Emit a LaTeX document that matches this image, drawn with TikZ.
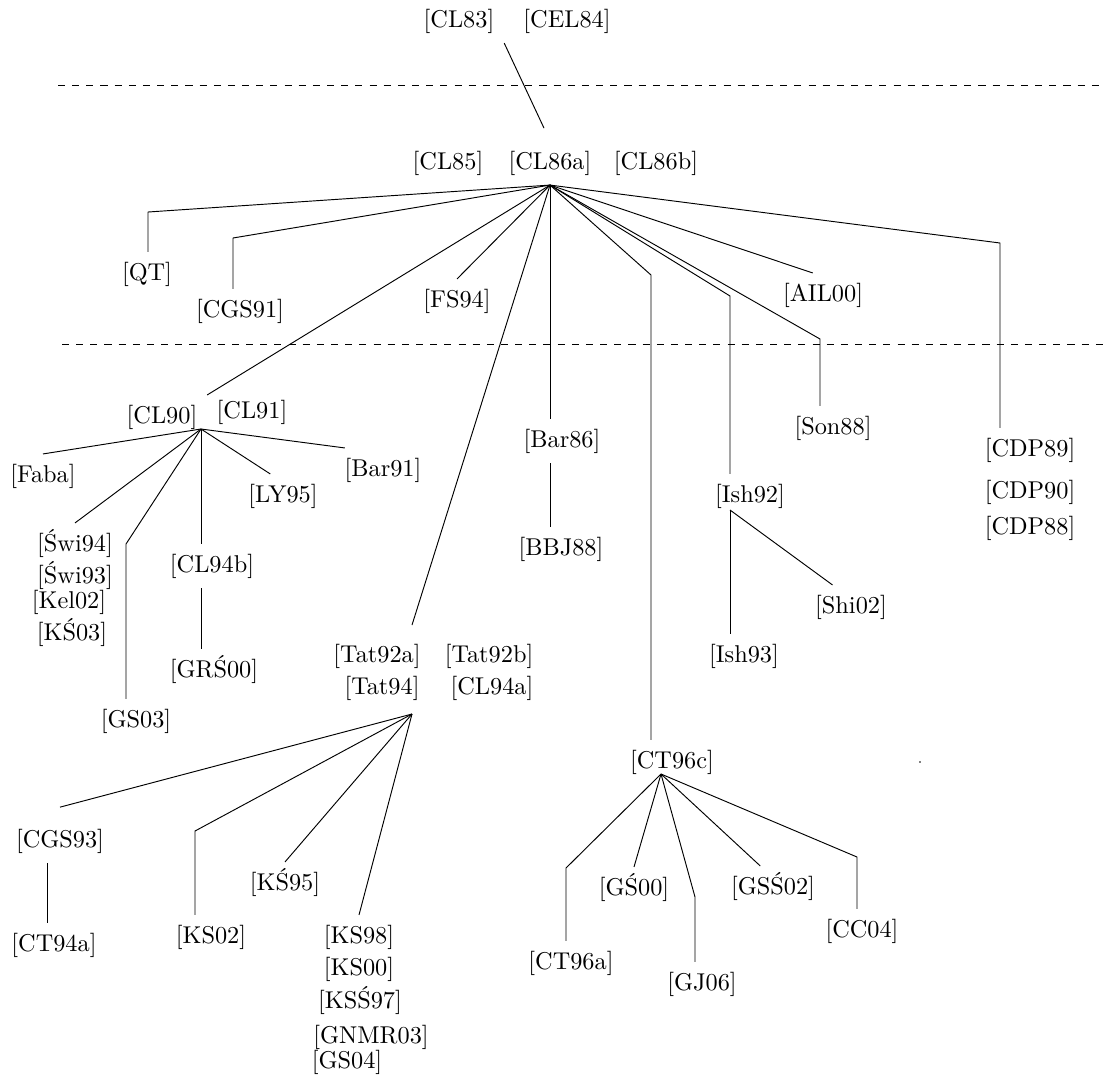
\documentclass[tikz,border=0pt]{standalone}
\usepackage{fontspec}
\usetikzlibrary{positioning}

\begin{document}
\begin{tikzpicture}[
    x=0.4237pt,y=-0.4237pt,
    line join=round,
    paper/.style={font=\fontsize{10.3}{12}\selectfont,inner sep=4pt,
        text height=7.7pt,text depth=2.6pt},
    yearline/.style={dashed}
  ]
    \useasboundingbox (0,0) rectangle (1104,1077);

    % first row
    \node [paper] (cl83)   at (459,21)   {[CL83]};
    \node [paper] (cel84)  at (567,21)   {[CEL84]};

    \draw [yearline] (58,85) -- (1100,85);

    \node [paper] (cl85)   at (448,163)  {[CL85]};
    \node [paper] (cl86a)  at (550,163)  {[CL86a]};
    \node [paper] (cl86b)  at (656,163)  {[CL86b]};

    \node [paper] (qt)     at (147,274)  {[QT]};
    \node [paper] (cgs91)  at (240,311)  {[CGS91]};
    \node [paper] (fs94)   at (457,301)  {[FS94]};
    \node [paper] (ail00)  at (823,295)  {[AIL00]};

    \draw [yearline] (62,344) -- (1104,344);

    % CL90 branch
    \node [paper] (cl90)   at (162,417)  {[CL90]};
    \node [paper] (cl91)   at (252,412)  {[CL91]};
    \node [paper] (faba)   at (43,476)   {[Faba]};
    \node [paper] (bar91)  at (383,470)  {[Bar91]};
    \node [paper] (ly95)   at (283,496)  {[LY95]};
    \node [paper] (swi94)  at (75,545)   {[Świ94]};
    \node [paper] (swi93)  at (75,577)   {[Świ93]};
    \node [paper] (kel02)  at (69,602)   {[Kel02]};
    \node [paper] (ks03)   at (72,634)   {[KŚ03]};
    \node [paper] (cl94b)  at (212,566)  {[CL94b]};
    \node [paper] (grs00)  at (214,671)  {[GRŚ00]};
    \node [paper] (gs03)   at (136,721)  {[GS03]};

    % Tat branch
    \node [paper] (tat92a) at (377,656)  {[Tat92a]};
    \node [paper] (tat92b) at (489,656)  {[Tat92b]};
    \node [paper] (tat94)  at (382,688)  {[Tat94]};
    \node [paper] (cl94a)  at (492,688)  {[CL94a]};
    \coordinate (tatin)  at (412,625);
    \coordinate (tatfan) at (412,714);
    \node [paper] (cgs93)  at (60,841)   {[CGS93]};
    \node [paper] (ct94a)  at (54,945)   {[CT94a]};
    \node [paper] (ks02)   at (211,937)  {[KS02]};
    \node [paper] (ks95)   at (285,884)  {[KŚ95]};
    \node [paper] (ks98)   at (359,937)  {[KS98]};
    \node [paper] (ks00)   at (359,969)  {[KS00]};
    \node [paper] (kss97)  at (360,1002) {[KSŚ97]};
    \node [paper] (gnmr03) at (371,1037) {[GNMR03]};
    \node [paper] (gs04)   at (347,1062) {[GS04]};

    % right part
    \node [paper] (bar86)  at (562,441)  {[Bar86]};
    \node [paper] (bbj88)  at (561,549)  {[BBJ88]};
    \node [paper] (son88)  at (833,428)  {[Son88]};
    \node [paper] (cdp89)  at (1030,450) {[CDP89]};
    \node [paper] (cdp90)  at (1030,492) {[CDP90]};
    \node [paper] (cdp88)  at (1030,528) {[CDP88]};
    \node [paper] (ish92)  at (750,496)  {[Ish92]};
    \node [paper] (ish93)  at (744,656)  {[Ish93]};
    \node [paper] (shi02)  at (851,607)  {[Shi02]};
    \coordinate (ish92fan) at (730,510);

    \node [paper] (ct96c)  at (672,762)  {[CT96c]};
    \coordinate (ct96fan) at (661,774);
    \node [paper] (ct96a)  at (571,963)  {[CT96a]};
    \node [paper] (gs00)   at (634,889)  {[GŚ00]};
    \node [paper] (gj06)   at (702,984)  {[GJ06]};
    \node [paper] (gss02)  at (773,888)  {[GSŚ02]};
    \node [paper] (cc04)   at (862,931)  {[CC04]};

    \fill (920,762) circle (0.8);

    % edges
    \draw [shorten >=6pt] (cl83.south east) -- (cl86a.north);

    \draw (cl86a.south) -- (148,212) -- (148,212 |- qt.north);
    \draw (cl86a.south) -- (233,238) -- (233,238 |- cgs91.north);
    \draw (cl86a.south) -- (fs94.north);
    \draw (cl86a.south) -- (cl90.north east);
    \draw (cl86a.south) -- (tatin);
    \draw (cl86a.south) -- (cl86a.south |- bar86.north);
    \draw (cl86a.south) -- (651,275) -- (651,275 |- ct96c.north);
    \draw (cl86a.south) -- (730,296) -- (730,296 |- ish92.north);
    \draw (cl86a.south) -- (820,339) -- (820,339 |- son88.north);
    \draw (cl86a.south) -- (ail00.115);
    \draw (cl86a.south) -- (1000,243) -- (1000,243 |- cdp89.north);

    \coordinate (cl90fan) at (201,429);
    \draw (cl90fan) -- (faba.north);
    \draw (cl90fan) -- (bar91.150);
    \draw (cl90fan) -- (ly95.120);
    \draw (cl90fan) -- (cl90fan |- cl94b.north);
    \draw (cl90fan) -- (swi94.north);
    \draw (cl90fan) -- (126,544) -- (126,544 |- gs03.north);
    \draw (cl90fan |- cl94b.south) -- (cl90fan |- grs00.north);

    \draw (tatfan) -- ([yshift=5pt]cgs93.north);
    \draw (tatfan) -- (195,831) -- (195,831 |- ks02.north);
    \draw (tatfan) -- (ks95.north);
    \draw (tatfan) -- (ks98.north);
    \draw (47,0 |- cgs93.south) -- (47,0 |- ct94a.north);

    \draw (cl86a.south |- bar86.south) -- (cl86a.south |- bbj88.north);

    \draw (ish92fan) -- (ish92fan |- ish93.north);
    \draw (ish92fan) -- (shi02.130);

    \draw (ct96fan) -- (566,868) -- (566,868 |- ct96a.north);
    \draw (ct96fan) -- (gs00.north);
    \draw (ct96fan) -- (695,897) -- (695,897 |- gj06.north);
    \draw (ct96fan) -- (gss02.120);
    \draw (ct96fan) -- (857,857) -- (857,857 |- cc04.north);
\end{tikzpicture}
\end{document}
